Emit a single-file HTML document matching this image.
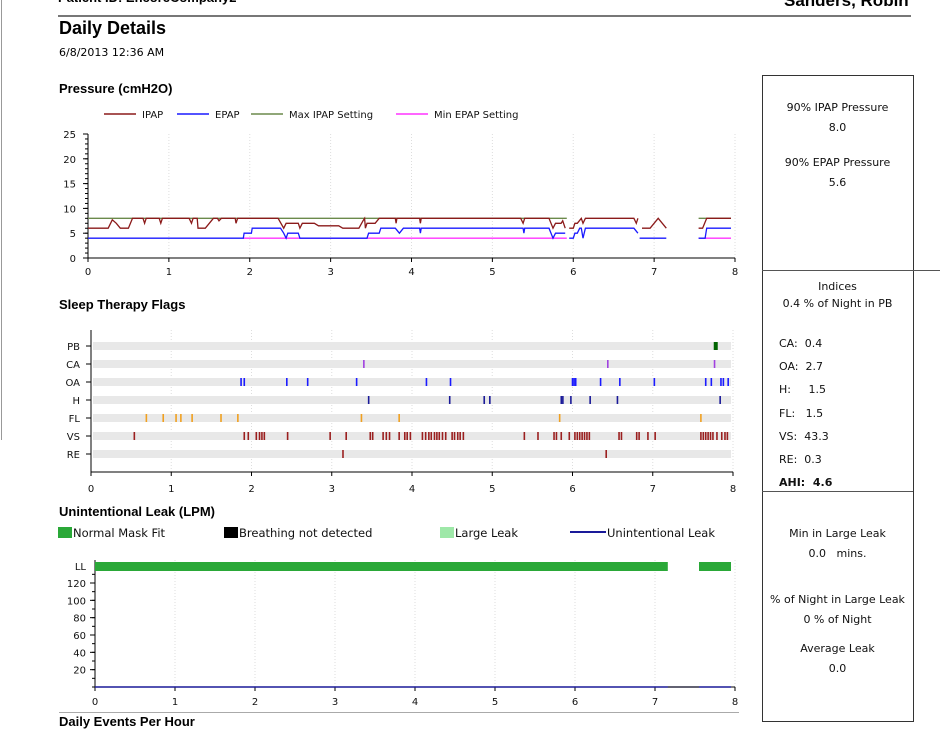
<!DOCTYPE html>
<html><head><meta charset="utf-8">
<style>
body{margin:0;width:952px;height:725px;overflow:hidden;background:#fff;position:relative;font-family:"DejaVu Sans","Liberation Sans",sans-serif;}
.a{position:absolute;white-space:nowrap;}
.t{font-family:"Liberation Sans",sans-serif;font-weight:bold;font-size:13px;color:#000;}
.r{position:absolute;left:762px;width:151px;text-align:center;font-size:11px;color:#111;}
svg{position:absolute;left:0;top:0;}
svg text{font-family:"DejaVu Sans",sans-serif;font-size:10px;fill:#111;}
</style></head><body>
<div class="a" style="left:1px;top:0;width:1px;height:440px;background:#999"></div>
<div class="a t" style="left:58px;top:-10px;font-size:13px">Patient ID: EncoreCompany2</div>
<div class="a t" style="left:784px;top:-9px;font-size:17px">Sanders, Robin</div>
<div class="a" style="left:58px;top:15px;width:853px;height:2px;background:#777"></div>
<div class="a t" style="left:59px;top:18px;font-size:18px">Daily Details</div>
<div class="a" style="left:59px;top:46px;font-size:11px">6/8/2013 12:36 AM</div>
<div class="a t" style="left:59px;top:81px">Pressure (cmH2O)</div>
<div class="a t" style="left:59px;top:297px">Sleep Therapy Flags</div>
<div class="a t" style="left:59px;top:504px">Unintentional Leak (LPM)</div>
<div class="a t" style="left:59px;top:714px">Daily Events Per Hour</div>
<div class="a" style="left:59px;top:712px;width:680px;height:1px;background:#aaa"></div>

<div class="a" style="left:762px;top:75px;width:150px;height:645px;border:1px solid #333"></div>
<div class="a" style="left:762px;top:270px;width:178px;height:1px;background:#555"></div>
<div class="a" style="left:762px;top:491px;width:151px;height:1px;background:#555"></div>
<div class="r" style="top:98px;line-height:20px">90% IPAP Pressure<br>8.0<div style="height:15px"></div>90% EPAP Pressure<br>5.6</div>
<div class="r" style="top:278px;line-height:17px">Indices<br>0.4 % of Night in PB</div>
<div class="r" style="top:332px;text-align:left;padding-left:17px;line-height:23.2px;width:130px">CA:&nbsp; 0.4<br>OA:&nbsp; 2.7<br>H:&nbsp;&nbsp;&nbsp;&nbsp; 1.5<br>FL:&nbsp;&nbsp; 1.5<br>VS:&nbsp; 43.3<br>RE:&nbsp; 0.3<br><b>AHI:&nbsp; 4.6</b></div>
<div class="r" style="top:524px;line-height:20px">Min in Large Leak<br>0.0&nbsp;&nbsp; mins.<div style="height:26px"></div>% of Night in Large Leak<br>0 % of Night<div style="height:9px"></div>Average Leak<br>0.0</div>

<svg id="s" width="952" height="725"></svg>
<script>
// Pressure data (hours, cmH2O); null = gap
const ipapT=[0,0.25,0.3,0.35,0.4,0.5,0.55,0.68,0.7,0.72,0.88,0.9,0.92,1.25,1.28,1.3,1.35,1.36,1.45,1.5,1.55,1.6,1.62,1.65,1.82,1.83,1.85,2.35,2.42,2.45,2.6,2.62,2.65,2.8,2.85,3.1,3.15,3.35,3.4,3.42,3.43,3.45,3.55,3.6,3.8,3.81,3.82,4.1,4.11,4.12,5.35,5.38,5.4,5.7,5.75,5.78,5.85,5.87,5.9,5.92,5.95,6.0,6.02,6.05,6.1,6.12,6.15,6.75,6.78,6.8,6.82,6.85,6.95,7.05,7.15,7.3,7.55,7.6,7.65,7.95];
const ipapV=[6,6,7.7,7,6,6,8,8,7,8,8,7,8,8,7,8,8,6,6,7,8,8,7.5,8,8,7,8,8,6,7,7,6,7,7,6.5,6.5,6,6,7.5,8,6,7,7,8,8,7,8,8,7,8,8,7,8,8,6,7,7,7.5,6,null,6,6,7,7,8,7,8,8,7,8,null,6,6,8,6,null,6,6,8,8];
const epapT=[0,1.92,1.93,2.02,2.03,2.38,2.42,2.45,2.47,2.6,2.62,3.45,3.47,3.6,3.62,3.8,3.85,3.9,4.1,4.11,4.12,5.38,5.39,5.4,5.7,5.75,5.78,5.9,5.92,5.95,6.0,6.02,6.05,6.08,6.1,6.12,6.15,6.75,6.8,6.81,6.82,7.15,7.3,7.55,7.63,7.65,7.95];
const epapV=[4,4,5,5,6,6,5,4,5,5,4,4,5,5,6,6,5,6,6,5,6,6,5,6,6,4,5,5,null,4,4,5,5,6,6,4,6,6,5,null,4,4,null,4,4,6,6];
const maxT=[0,5.92,5.95,7.15,7.3,7.55,7.95];
const maxV=[8,8,null,8,null,8,8];
const minT=[1.92,5.92,5.95,7.15,7.3,7.55,7.95];
const minV=[4,4,null,4,null,4,4];
const xTicks=[0,1,2,3,4,5,6,7,8];
const pTicks=[0,5,10,15,20,25];
// Flags
const flagCats=["PB","CA","OA","H","FL","VS","RE"];
const flagPB=[7.77];
const flagCA=[3.4,6.44,7.77];
const flagOA=[1.87,1.91,2.44,2.7,3.31,4.18,4.48,6.0,6.02,6.04,6.35,6.59,7.02,7.66,7.73,7.85,7.88,7.94];
const flagH=[3.46,4.47,4.9,4.97,5.86,5.88,5.98,6.22,6.56,7.84];
const flagFL=[0.69,0.9,1.06,1.12,1.26,1.62,1.83,3.37,3.84,5.84,7.6];
const flagVS=[0.54,1.91,1.96,2.06,2.1,2.13,2.16,2.45,2.98,3.18,3.48,3.51,3.64,3.68,3.72,3.84,3.91,3.94,3.98,4.13,4.17,4.21,4.24,4.28,4.31,4.34,4.38,4.42,4.5,4.53,4.57,4.6,4.64,5.4,5.57,5.77,5.8,5.86,5.96,6.03,6.06,6.09,6.12,6.15,6.18,6.21,6.58,6.61,6.8,6.83,6.94,7.03,7.6,7.63,7.66,7.69,7.72,7.75,7.8,7.86,7.9,7.93];
const flagRE=[3.14,6.42];
// Leak
const fitStart=[0,7.55];
const fitEnd=[7.16,7.95];
const leakT=[0,7.95];
const leakV=[0,0];
const lTicks=[20,40,60,80,100,120];

const NS="http://www.w3.org/2000/svg",S=document.getElementById('s');
function el(t,a){const e=document.createElementNS(NS,t);for(const k in a)e.setAttribute(k,a[k]);S.appendChild(e);return e;}
function txt(x,y,s,anchor){const e=el('text',{x:x,y:y,'text-anchor':anchor||'middle'});e.textContent=s;return e;}
function pathFrom(T,V,fx,fy){let d='',pen=false;for(let i=0;i<T.length;i++){if(V[i]===null){pen=false;continue;}d+=(pen?'L':'M')+fx(T[i]).toFixed(1)+' '+fy(V[i]).toFixed(1);pen=true;}return d;}

// ---- Pressure chart
const px=h=>88+h*(735-88)/8, py=v=>258-v*(258-134)/25;
xTicks.forEach(t=>{if(t>0){const g=el('line',{x1:px(t),x2:px(t),y1:134,y2:258,stroke:'#ddd','stroke-dasharray':'1,2'});}
 const l=txt(px(t),275,t);
 el('line',{x1:px(t),x2:px(t),y1:258,y2:262,stroke:'#000'});});
pTicks.forEach(t=>{const l=txt(76,py(t)+4,t,'end');el('line',{x1:83,x2:88,y1:py(t),y2:py(t),stroke:'#000'});});
for(let v=0;v<=25;v++)el('line',{x1:85,x2:88,y1:py(v),y2:py(v),stroke:'#000'});
el('line',{x1:88,x2:88,y1:134,y2:259,stroke:'#000'});el('line',{x1:88,x2:735,y1:258,y2:258,stroke:'#000'});
[[maxT,maxV,'#6b8a4b','max-ipap-line'],[minT,minV,'#ff33ff','min-epap-line'],[epapT,epapV,'#1a1aff','epap-line'],[ipapT,ipapV,'#8b1a1a','ipap-line']].forEach(s=>{
 const p=el('path',{d:pathFrom(s[0],s[1],px,py),fill:'none',stroke:s[2],'stroke-width':1.3});
 });
[['IPAP','#8b1a1a',104],['EPAP','#1a1aff',177],['Max IPAP Setting','#6b8a4b',251],['Min EPAP Setting','#ff33ff',396]].forEach(l=>{
 const g=el('line',{x1:l[2],x2:l[2]+32,y1:114,y2:114,stroke:l[1],'stroke-width':1.5});
 txt(l[2]+38,118,l[0],'start');});

// ---- Flags chart
const fx=h=>91+h*(733-91)/8, fy=i=>346+i*18;
xTicks.forEach(t=>{if(t>0)el('line',{x1:fx(t),x2:fx(t),y1:330,y2:472,stroke:'#ddd','stroke-dasharray':'1,2'});
 const l=txt(fx(t),492,t);el('line',{x1:fx(t),x2:fx(t),y1:472,y2:476,stroke:'#000'});});
el('line',{x1:91,x2:91,y1:330,y2:473,stroke:'#000'});el('line',{x1:91,x2:733,y1:472,y2:472,stroke:'#000'});
const flagData=[flagPB,flagCA,flagOA,flagH,flagFL,flagVS,flagRE];
const flagCol=['#006400','#a040e0','#1a1aff','#1a1a99','#f0a020','#9b2020','#9b2020'];
flagCats.forEach((c,i)=>{
 const b=el('rect',{x:93,y:fy(i)-4,width:638,height:8,fill:'#e8e8e8'});
 const l=txt(80,fy(i)+4,c,'end');
 el('line',{x1:86,x2:91,y1:fy(i),y2:fy(i),stroke:'#000'});
 flagData[i].forEach(t=>{const m=el('rect',{x:fx(t)-0.8,y:fy(i)-4,width:i===0?4:1.6,height:8,fill:flagCol[i]});});
});

// ---- Leak chart
const lx=h=>95+h*(735-95)/8, ly=v=>687-v*(687-583)/120;
xTicks.forEach(t=>{if(t>0)el('line',{x1:lx(t),x2:lx(t),y1:560,y2:687,stroke:'#ddd','stroke-dasharray':'1,2'});
 const l=txt(lx(t),705,t);el('line',{x1:lx(t),x2:lx(t),y1:687,y2:691,stroke:'#000'});});
lTicks.forEach(t=>{const l=txt(86,ly(t)+4,t,'end');el('line',{x1:90,x2:95,y1:ly(t),y2:ly(t),stroke:'#000'});});
for(let v=0;v<=130;v+=10)el('line',{x1:92,x2:95,y1:ly(v),y2:ly(v),stroke:'#000'});
txt(86,570,'LL','end');
el('line',{x1:95,x2:95,y1:560,y2:688,stroke:'#000'});el('line',{x1:95,x2:735,y1:687,y2:687,stroke:'#000'});
fitStart.forEach((s,i)=>{const r=el('rect',{x:lx(s),y:562,width:lx(fitEnd[i])-lx(s),height:9,fill:'#2aa838'});});
const lk=el('path',{d:pathFrom(leakT,leakV,lx,ly),stroke:'#1a1a99','stroke-width':1.5,fill:'none'});

el('line',{x1:lx(7.16),x2:lx(7.55),y1:687,y2:687,stroke:'#555','stroke-width':1.5});
// legend
[['Normal Mask Fit','#2aa838',58,'box'],['Breathing not detected','#000',224,'box'],['Large Leak','#9ee8a8',440,'box'],['Unintentional Leak','#1a1a99',570,'line']].forEach(l=>{
 if(l[3]==='box'){const r=el('rect',{x:l[2],y:527,width:14,height:11,fill:l[1]});}
 else{const r=el('line',{x1:l[2],x2:l[2]+36,y1:532,y2:532,stroke:l[1],'stroke-width':2});}
 const t=txt(l[2]+(l[3]==='box'?15:37),537,l[0],'start');t.style.fontSize='11.5px';});
</script>
</body></html>
